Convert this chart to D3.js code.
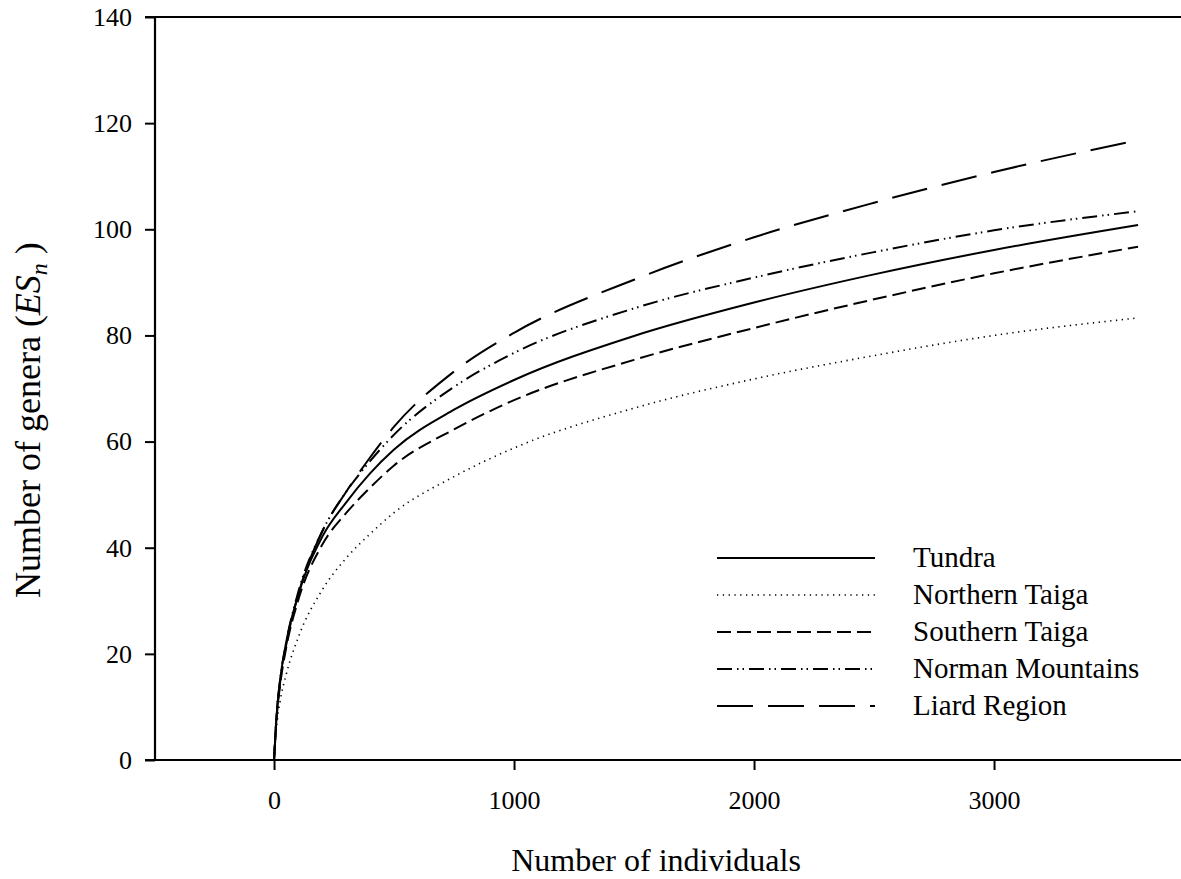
<!DOCTYPE html>
<html>
<head>
<meta charset="utf-8">
<script src="https://cdn.jsdelivr.net/npm/d3@7"></script>
<style>
  body { margin: 0; background: #fff; }
  text { font-family: "Liberation Serif", "Times New Roman", serif; fill: #000; }
</style>
</head>
<body>
<div id="chart-area"></div>
<script>
// sample sizes (number of individuals)
const individuals = [0, 10, 25, 50, 100, 200, 300, 400, 500, 750, 1000, 1500, 2000, 2500, 3000, 3600];

// expected number of genera per region
const tundra   = [0, 8, 15, 22, 31, 42, 48.5, 54, 58.5, 66, 71.6, 79.9, 86.2, 91.5, 96.1, 100.8];
const northern = [0, 6, 11, 16, 23, 32, 38, 42.6, 46.6, 53.4, 58.8, 66.3, 71.8, 76.2, 80.0, 83.3];
const southern = [0, 7.5, 14, 21, 30, 40.5, 46.5, 51.3, 55.5, 62.3, 67.8, 75.4, 81.4, 86.8, 91.7, 96.7];
const norman   = [0, 8, 15, 22, 31.5, 43, 50.5, 56.3, 61.3, 70.3, 76.7, 85.1, 90.9, 95.7, 99.8, 103.4];
const liard    = [0, 8, 14.5, 21.5, 31, 43, 50.5, 57, 62.8, 73.2, 80.5, 90.5, 98.5, 105, 110.8, 116.8];

const regions = ["Tundra", "Northern Taiga", "Southern Taiga", "Norman Mountains", "Liard Region"];
const seriesValues = [tundra, northern, southern, norman, liard];
const dashes = ["none", "1.3,4.5", "14,6", "15,5,1.5,4,1.5,5", "36,15"];
const widths = [2, 1.6, 2, 2, 2];

const xTicks = [0, 1000, 2000, 3000];
const yTicks = [0, 20, 40, 60, 80, 100, 120, 140];

const svgWidth = 1181;
const svgHeight = 879;
const svg = d3.select("#chart-area")
              .append("svg")
              .attr("width", svgWidth)
              .attr("height", svgHeight);

const plotLeft = 155, plotRight = 1181, plotTop = 17, plotBottom = 760;

const x = d3.scaleLinear()
            .domain([-496, 3779])
            .range([plotLeft, plotRight]);

const y = d3.scaleLinear()
            .domain([0, 140])
            .range([plotBottom, plotTop]);

// y axis
const yAxis = svg.append("g")
    .attr("transform", `translate(${plotLeft},0)`)
    .call(d3.axisLeft(y).tickValues(yTicks).tickSize(10).tickPadding(13).tickFormat(d3.format("d")));
yAxis.select(".domain").remove();
yAxis.selectAll("line").attr("stroke", "#000").attr("stroke-width", 2);
yAxis.selectAll("text").style("font-size", "26px");

// x axis
const xAxis = svg.append("g")
    .attr("transform", `translate(0,${plotBottom})`)
    .call(d3.axisBottom(x).tickValues(xTicks).tickSize(10).tickPadding(21).tickFormat(d3.format("d")));
xAxis.select(".domain").remove();
xAxis.selectAll("line").attr("stroke", "#000").attr("stroke-width", 2);
xAxis.selectAll("text").style("font-size", "26px");

// frame lines
svg.append("line").attr("x1", plotLeft).attr("x2", plotLeft).attr("y1", plotTop).attr("y2", plotBottom)
   .attr("stroke", "#000").attr("stroke-width", 2.2);
svg.append("line").attr("x1", plotLeft - 10).attr("x2", plotRight).attr("y1", plotBottom).attr("y2", plotBottom)
   .attr("stroke", "#000").attr("stroke-width", 2.2);
svg.append("line").attr("x1", plotLeft - 10).attr("x2", plotRight).attr("y1", plotTop).attr("y2", plotTop)
   .attr("stroke", "#000").attr("stroke-width", 2.2);

// curves
const line = d3.line()
    .x(d => x(d[0]))
    .y(d => y(d[1]))
    .curve(d3.curveMonotoneX);

svg.selectAll("path.curve")
   .data(seriesValues)
   .enter()
   .append("path")
   .attr("class", "curve")
   .attr("d", vals => line(individuals.map((n, i) => [n, vals[i]])))
   .attr("fill", "none")
   .attr("stroke", "#000")
   .attr("stroke-width", (d, i) => widths[i])
   .attr("stroke-dasharray", (d, i) => dashes[i]);

// legend
const legend = svg.append("g");
regions.forEach((name, i) => {
  const ly = 558 + i * 37;
  legend.append("line")
        .attr("x1", 717).attr("x2", 875)
        .attr("y1", ly).attr("y2", ly)
        .attr("stroke", "#000")
        .attr("stroke-width", widths[i])
        .attr("stroke-dasharray", dashes[i]);
  legend.append("text")
        .attr("x", 913).attr("y", ly + 9)
        .style("font-size", "29px")
        .text(name);
});

// axis titles
svg.append("text")
   .attr("x", 656).attr("y", 871)
   .attr("text-anchor", "middle")
   .style("font-size", "32px")
   .text("Number of individuals");

const yTitle = svg.append("text")
   .attr("transform", "translate(40,598) rotate(-90)")
   .attr("text-anchor", "start")
   .style("font-size", "36px");
yTitle.append("tspan").text("Number of genera (");
yTitle.append("tspan").style("font-style", "italic").text("ES");
yTitle.append("tspan").style("font-style", "italic").style("font-size", "24px").attr("dy", 7).text("n");
yTitle.append("tspan").attr("dy", -7).text(" )");
</script>
</body>
</html>
